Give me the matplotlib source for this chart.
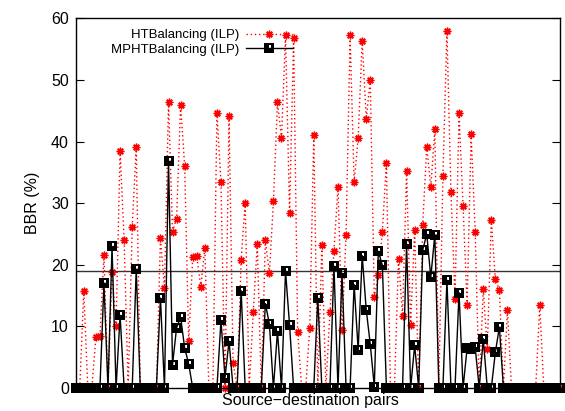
import numpy as np
import matplotlib
matplotlib.use('Agg')
import matplotlib.pyplot as plt
from matplotlib.path import Path

plt.rcParams['font.family'] = ['Liberation Sans', 'DejaVu Sans']

# BBR (%) for each source-destination pair, pairs numbered 0..120
ht_ilp = [0, 0, 15.8, 0, 0, 8.2, 8.4, 21.6, 0, 18.8,
          10.0, 38.5, 24.0, 0, 26.1, 39.1, 0, 0, 0, 0,
          0, 24.3, 16.3, 46.4, 25.4, 27.5, 46.0, 36.1, 7.6, 21.2,
          21.4, 16.4, 22.7, 0, 0, 44.7, 33.4, 0, 44.1, 4.1,
          0, 20.8, 30.1, 0, 12.3, 23.4, 0, 24.0, 18.6, 30.3,
          46.4, 40.6, 57.3, 28.4, 56.9, 9.1, 0, 0, 9.7, 41.1,
          0, 23.2, 0, 12.3, 22.3, 32.7, 9.4, 24.9, 57.3, 33.4,
          40.6, 56.4, 43.7, 50.0, 14.8, 18.3, 25.4, 36.6, 0, 0,
          21.0, 11.7, 35.2, 10.2, 25.7, 0, 26.5, 39.2, 32.6, 42.0,
          0, 34.5, 57.9, 31.8, 14.5, 44.6, 29.5, 13.5, 41.2, 25.4,
          0, 16.1, 6.4, 27.3, 17.7, 15.9, 0, 12.6, 0, 0,
          0, 0, 0, 0, 0, 13.5, 0, 0, 0, 0,
          0]

mpht_ilp = [0, 0, 0, 0, 0, 0, 0, 17.0, 0, 23.0,
            0, 11.8, 0, 0, 0, 19.3, 0, 0, 0, 0,
            0, 14.6, 0, 36.9, 3.8, 9.8, 11.5, 6.5, 3.9, 0,
            0, 0, 0, 0, 0, 0, 11.0, 1.7, 7.6, 0,
            0, 15.8, 0, 0, 0, 0, 0, 13.7, 10.4, 0,
            9.2, 0, 19.0, 10.2, 0, 0, 0, 0, 0, 0,
            14.6, 0, 0, 0, 19.8, 0, 18.6, 0, 0, 16.8,
            6.2, 21.5, 12.7, 7.1, 0.2, 22.2, 19.9, 0, 0, 0,
            0, 0, 23.4, 0, 6.9, 0, 22.4, 25.0, 18.0, 24.9,
            0, 0, 17.5, 0, 0, 15.5, 0, 6.5, 6.4, 6.6,
            0, 8.0, 0, 0, 5.8, 9.9, 0, 0, 0, 0,
            0, 0, 0, 0, 0, 0, 0, 0, 0, 0,
            0]

threshold = 19
y_ticks = [0, 10, 20, 30, 40, 50, 60]

pairs = np.arange(len(ht_ilp))

# filled square with a small hole near the top-right corner
outer = [(-1, -1), (1, -1), (1, 1), (-1, 1), (-1, -1)]
inner = [(0.05, 0.1), (0.05, 0.6), (0.55, 0.6), (0.55, 0.1), (0.05, 0.1)]
codes = [Path.MOVETO] + [Path.LINETO] * 3 + [Path.CLOSEPOLY]
holed_square = Path(outer + inner, codes + codes)

fig = plt.figure(figsize=(5.65, 4.11), dpi=100)
ax = fig.add_axes([0.134, 0.056, 0.857, 0.899])

ax.axhline(threshold, color='#333333', lw=1.0, zorder=1)

ax.plot(pairs, ht_ilp, color='red', lw=1.0, linestyle=(0, (1, 2)),
        marker=(8, 2, 0), markersize=5.5, markeredgewidth=1.0,
        label='HTBalancing (ILP)', clip_on=False, zorder=2)
ax.plot(pairs, mpht_ilp, color='black', lw=1.0,
        marker=holed_square, markersize=6.5, markerfacecolor='black',
        markeredgewidth=0, label='MPHTBalancing (ILP)',
        clip_on=False, zorder=3)

ax.set_xlim(0, len(ht_ilp) - 1)
ax.set_ylim(0, 60)
ax.set_xticks([])
ax.set_yticks(y_ticks)
ax.tick_params(axis='y', direction='in', length=6, right=True,
               labelsize=11.5, pad=5)
for s in ax.spines.values():
    s.set_linewidth(1.0)

ax.set_ylabel('BBR (%)', fontsize=11.5, labelpad=8)
fig.text(0.549, 0.044, 'Source\u2212destination pairs', fontsize=11.5,
         ha='center', va='top')

ax.legend(loc='upper right', bbox_to_anchor=(0.449, 0.971), frameon=False,
          markerfirst=False, numpoints=1, fontsize=9.5, handlelength=3.6,
          handletextpad=0.5, labelspacing=0.15, borderpad=0,
          borderaxespad=0)

fig.savefig('out.png', dpi=100)
